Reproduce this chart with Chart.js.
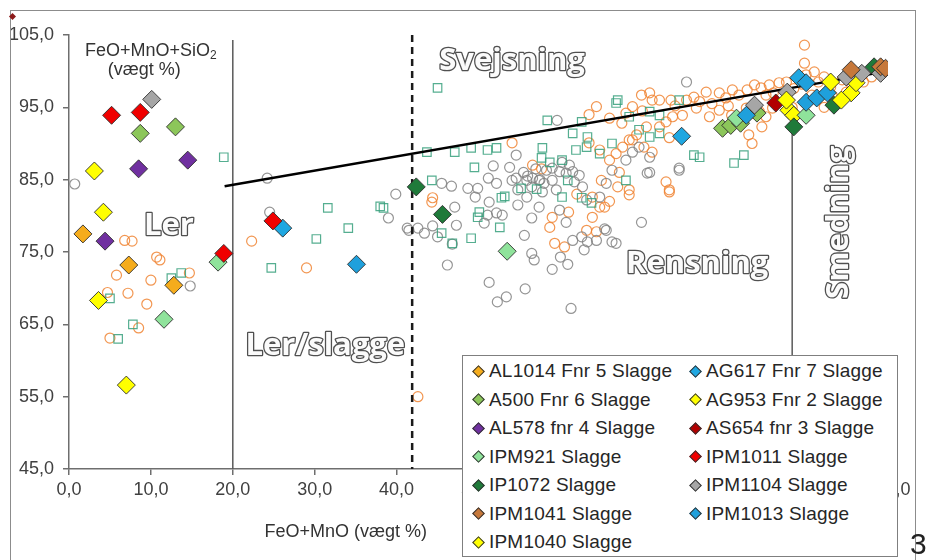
<!DOCTYPE html>
<html lang="da">
<head>
<meta charset="UTF-8">
<title>FeO+MnO mod FeO+MnO+SiO2</title>
<script src="https://cdn.jsdelivr.net/npm/chart.js"></script>
<style>
  body { margin: 0; background: #fff; font-family: "Liberation Sans", Arial, sans-serif; }
  #wrap { position: relative; width: 930px; height: 560px; overflow: hidden; background: #fff; }
  #frame { position: absolute; left: 10px; top: 10px; width: 904px; height: 600px; border: 1.5px solid #8c8c8c; pointer-events: none; }
  #legend {
    position: absolute; left: 462px; top: 355px; width: 436px; height: 202px;
    background: #fff; border: 1px solid #7f7f7f; box-sizing: border-box;
    display: grid; grid-template-columns: 217px 1fr; grid-auto-rows: 28.5px; padding-top: 1px;
    font-size: 19px; letter-spacing: 0.2px; color: #262626;
  }
  .item { display: flex; align-items: center; padding-left: 11px; white-space: nowrap; }
  .mk { width: 7px; height: 7px; transform: rotate(45deg); border: 1px solid #333; margin-right: 6px; flex: none; }
  #stray { position: absolute; left: 10px; top: 14px; width: 5px; height: 5px; background: #8b1a1a; transform: rotate(45deg); }
  #cut { position: absolute; left: 910px; top: 527px; font-size: 30px; color: #222; }
</style>
</head>
<body>
<div id="wrap">
  <canvas id="chart" width="930" height="560"></canvas>
  <div id="frame"></div>
  <div id="stray"></div>
  <div id="legend"></div>
  <div id="cut">3</div>
</div>
<script>
// axis ticks
const xTicks = [0, 10, 20, 30, 40, 50, 60, 70, 80, 90, 100];
const yTicks = [45, 55, 65, 75, 85, 95, 105];

// background clouds (no legend entry)
const orangeCircles = [
  [6.8,76.6],[7.7,76.5],[10.7,74.3],[11.1,73.9],[5.8,71.8],[14.7,72.1],[10.0,71.1],[7.2,69.3],[4.7,69.4],
  [9.5,67.8],[8.5,64.5],[5.0,63.1],[22.3,76.5],[29.0,72.8],[42.6,55.0],
  [54.1,90.1],[44.4,82.5],[44.3,81.9],[59.0,79.8],[58.7,78.4],[59.3,76.2],[60.5,75.7],[63.9,79.8],[63.2,78.0],
  [64.4,77.8],[64.8,81.2],[65.4,81.2],[67.0,84.0],[68.4,82.9],[65.0,84.9],[63.5,94.0],[64.4,95.1],[68.0,94.2],
  [68.8,95.1],[71.2,96.0],[72.9,84.7],[73.3,83.3],[68.8,90.5],[70.2,89.5],[71.2,88.8],[56.6,87.0],[57.7,86.5],
  [61.0,80.5],[62.0,83.0],[66.0,82.0],
  [69.9,96.7],[70.9,97.0],[72.1,96.0],[73.5,96.0],[75.4,96.0],[76.3,96.4],[77.8,97.1],[79.4,97.0],[80.2,96.3],
  [81.0,97.4],[81.8,96.7],[82.8,97.4],[83.7,98.1],[84.5,97.7],[85.5,98.1],[86.7,98.4],[87.6,98.5],[89.8,101.1],
  [91.0,99.9],[92.2,99.2],[90.0,99.5],[85.1,96.7],[82.7,94.9],[83.4,94.2],[84.3,94.4],[85.1,93.7],[85.9,94.9],
  [84.6,92.3],[83.0,91.2],[83.4,90.0],[80.9,93.9],[79.4,94.6],[78.2,93.7],[76.6,94.9],[74.9,93.9],[73.7,93.7],
  [72.9,93.0],[72.1,92.3],[70.5,92.3],[69.3,91.2],[68.4,90.5],[67.6,89.5],[66.8,88.6],[73.3,90.8],[73.3,83.6],
  [63.9,82.6],[68.4,83.6],[67.2,86.0],[66.0,87.7],[64.8,89.1],[63.5,90.1],[88.3,95.0],[90.7,96.7],[92.2,95.0],
  [93.2,96.6],[94.9,97.1],[95.6,97.8],[94.4,98.8],[97.0,98.5],[98.0,99.2],[89.8,103.6],
  [66.0,93.5],[67.5,92.8],[70.0,94.5],[74.0,95.2],[77.0,95.8],[78.5,95.5],[80.5,95.2],[86.0,97.0],[88.5,97.6],
  [89.5,98.2],[91.5,98.5],[93.0,97.8]
];
const greenSquares = [
  [12.5,71.4],[13.7,72.1],[5.0,68.6],[7.8,65.0],[6.0,63.0],[24.7,72.8],[30.2,76.8],[18.9,88.1],[31.6,81.1],
  [34.1,78.3],[38.0,81.3],[38.4,81.1],[45.0,97.7],
  [43.7,88.8],[47.1,88.8],[49.1,89.4],[51.1,89.1],[52.2,89.4],[58.4,93.2],[62.6,93.0],[61.5,91.4],[49.5,86.7],
  [44.3,84.9],[53.2,82.7],[52.8,82.5],[50.1,80.5],[49.9,79.8],[52.6,78.4],[45.5,77.6],[46.8,76.2],[49.1,76.9],
  [55.2,83.8],[57.1,83.7],[57.8,89.4],[57.7,88.0],[58.7,87.4],[60.2,87.7],[60.9,84.9],[60.2,82.6],[62.6,82.5],
  [63.8,81.8],[61.9,89.1],[63.2,89.5],[64.8,88.6],[66.3,90.0],[68.0,84.9],[70.9,90.9],[72.1,91.4],[66.8,95.6],
  [76.3,88.4],
  [67.0,96.0],[70.9,94.4],[72.1,93.9],[74.5,96.0],[77.0,88.1],[81.2,87.3],[82.4,88.4],[81.5,92.8],[68.4,93.7],
  [63.3,90.9],[69.6,91.9]
];
const greyCircles = [
  [0.7,84.4],[14.8,70.3],[24.5,80.5],[24.2,85.2],[39.9,83.0],[39.0,79.7],[41.5,78.0],
  [41.3,78.3],[42.6,78.3],[43.4,77.6],[44.4,78.6],[45.0,77.1],[45.5,84.5],[46.7,84.1],[47.1,81.2],[47.3,78.7],
  [46.8,76.1],[46.2,73.2],[48.7,83.8],[49.9,83.8],[49.6,82.6],[51.2,85.2],[52.2,84.5],[51.3,81.9],[51.1,80.1],
  [52.2,80.4],[50.7,79.0],[52.9,80.1],[51.8,86.9],[53.8,86.7],[54.6,88.4],[54.6,85.2],[54.8,81.5],[55.9,82.6],
  [56.5,79.7],[55.6,77.3],[57.4,81.2],[56.5,74.8],[56.8,73.9],[51.3,70.8],[52.3,68.1],[53.4,68.8],[55.7,69.9],
  [59.0,72.6],[60.0,74.3],[60.9,73.3],[61.3,67.2],[59.9,80.8],[60.7,79.1],[61.5,76.6],[62.6,77.1],[63.3,76.4],
  [62.9,75.3],[64.4,76.6],[65.4,78.2],[66.8,76.2],[69.9,79.1],[70.6,85.9],[74.5,86.3],[59.6,93.2],[58.3,86.3],
  [59.0,86.6],[59.9,86.1],[60.7,85.9],[61.5,86.1],[62.3,85.6],[61.1,87.0],[60.2,87.4],[61.7,84.7],[62.7,84.0],
  [63.2,82.2],[64.8,82.6],[65.6,84.5],[66.3,86.3],[68.0,87.7],[68.8,88.8],[69.6,89.5],[70.9,88.1],[54.1,84.9],
  [55.9,84.9],[54.8,83.6],[56.6,85.2],[57.4,84.9],[59.0,84.9],[59.5,83.6],[57.8,83.3],
  [55.5,86.0],[56.0,85.5],[57.0,86.5],[57.5,85.0],[58.0,84.5],[56.5,84.0],
  [75.4,98.5],[74.5,86.6],[70.9,86.0],[65.6,78.0],[66.3,76.4]
];

// slag series (diamonds), in legend order
const seriesNames = [
  'AL1014 Fnr 5 Slagge', 'AG617 Fnr 7 Slagge',
  'A500 Fnr 6 Slagge', 'AG953 Fnr 2 Slagge',
  'AL578 fnr 4 Slagge', 'AS654 fnr 3 Slagge',
  'IPM921 Slagge', 'IPM1011 Slagge',
  'IP1072 Slagge', 'IPM1104 Slagge',
  'IPM1041 Slagge', 'IPM1013 Slagge',
  'IPM1040 Slagge'
];
const al1014 = [[1.7,77.5],[7.3,73.2],[12.8,70.4]];
const ag617  = [[26.1,78.3],[74.8,91.0],[89.1,99.1]];
const a500   = [[8.7,91.4],[13.0,92.3],[79.8,92.1],[80.8,92.5],[84.0,94.2],[82.0,92.8]];
const ag953  = [[3.1,86.2],[4.2,80.5],[87.9,94.6],[88.5,93.9],[95.5,97.0],[96.1,98.4]];
const al578  = [[14.5,87.7],[8.5,86.5],[4.4,76.5]];
const as654  = [[86.3,95.6]];
const ipm921 = [[11.6,65.7],[18.2,73.6],[53.5,75.1],[81.5,93.5],[90.0,93.9]];
const ipm1011 = [[5.2,93.9],[8.7,94.3],[18.9,74.8],[24.9,79.3]];
const ip1072 = [[42.4,84.0],[45.6,80.2],[88.5,92.3],[93.4,95.3],[98.3,100.6]];
const ipm1104 = [[10.1,96.1],[83.7,95.3],[87.7,97.1],[94.9,99.2],[96.8,99.7],[99.1,99.7]];
const ipm1041 = [[95.5,100.2],[99.1,100.6],[99.7,100.4]];
const ipm1013 = [[35.1,73.3],[82.7,93.9],[90.0,98.4],[90.0,95.7],[91.3,96.3],[92.6,97.0]];
const ipm1040 = [[7.0,56.6],[3.6,68.3],[87.6,96.0],[93.0,98.5],[94.3,96.0]];
const seriesData = [al1014, ag617, a500, ag953, al578, as654, ipm921, ipm1011, ip1072, ipm1104, ipm1041, ipm1013, ipm1040];
const seriesColors = ['#f5ac1c', '#1fa7e1', '#8cc65a', '#ffff00', '#7030a0', '#b20000', '#8fe39b',
                      '#f00000', '#1f7a3a', '#a6a6a6', '#c6783a', '#1fa0dc', '#ffff00'];

// guide lines
const trendLine = [[19.0,84.1],[99.5,99.9]];
const lerLine = [[20.0,104.3],[20.0,45]];
const slaggeLine = [[41.9,105],[41.9,45]];
const smedLine = [[88.3,91.5],[88.3,45]];

const pts = arr => arr.map(([x, y]) => ({ x, y }));
const fmt = v => v.toFixed(1).replace('.', ',');

const datasets = [];
datasets.push({ data: pts(orangeCircles), pointStyle: 'circle', pointRadius: 5, borderWidth: 1.2,
  borderColor: 'rgba(240,132,50,0.85)', backgroundColor: 'rgba(0,0,0,0)', order: 60 });
datasets.push({ data: pts(greenSquares), pointStyle: 'rect', pointRadius: 6, borderWidth: 1.2,
  borderColor: 'rgba(55,160,125,0.85)', backgroundColor: 'rgba(0,0,0,0)', order: 58 });
datasets.push({ data: pts(greyCircles), pointStyle: 'circle', pointRadius: 5, borderWidth: 1.2,
  borderColor: 'rgba(130,130,130,0.85)', backgroundColor: 'rgba(0,0,0,0)', order: 59 });
datasets.push({ data: pts(lerLine), showLine: true, pointRadius: 0, borderColor: '#5a5a5a', borderWidth: 1.5, order: 40 });
datasets.push({ data: pts(slaggeLine), showLine: true, pointRadius: 0, borderColor: '#1a1a1a', borderWidth: 2.5,
  borderDash: [7, 5], order: 40 });
datasets.push({ data: pts(smedLine), showLine: true, pointRadius: 0, borderColor: '#5a5a5a', borderWidth: 1.5, order: 40 });
datasets.push({ data: pts(trendLine), showLine: true, pointRadius: 0, borderColor: '#000', borderWidth: 2.5, order: 30 });
seriesData.forEach((s, i) => {
  datasets.push({ label: seriesNames[i], data: pts(s), pointStyle: 'rectRot', pointRadius: 9, borderWidth: 1,
    borderColor: 'rgba(45,45,45,0.9)', backgroundColor: seriesColors[i], order: 20 - i });
});

// zone labels (outlined text), anchored in data units
const zoneTexts = [
  { text: 'Svejsning', x: 54.1, y: 100.2, rot: 0 },
  { text: 'Ler', x: 12.2, y: 77.3, rot: 0 },
  { text: 'Ler/slagge', x: 31.3, y: 60.8, rot: 0 },
  { text: 'Rensning', x: 76.7, y: 72.1, rot: 0 },
  { text: 'Smedning', x: 94.0, y: 79.1, rot: -Math.PI / 2 }
];

const annotate = {
  id: 'annotate',
  afterDraw(chart) {
    const { ctx, chartArea } = chart;
    const xs = chart.scales.x, ys = chart.scales.y;
    ctx.save();
    ctx.font = 'bold 31px "Open Sans"';
    ctx.lineJoin = 'round';
    ctx.textAlign = 'center';
    zoneTexts.forEach(z => {
      ctx.save();
      ctx.translate(xs.getPixelForValue(z.x), ys.getPixelForValue(z.y));
      ctx.rotate(z.rot);
      ctx.textBaseline = z.rot ? 'middle' : 'alphabetic';
      ctx.lineWidth = 2.6;
      ctx.strokeStyle = '#505050';
      ctx.strokeText(z.text, 0, 0);
      ctx.fillStyle = '#fbfbfb';
      ctx.fillText(z.text, 0, 0);
      ctx.restore();
    });

    // y title inside the plot
    ctx.fillStyle = '#333';
    ctx.textBaseline = 'middle';
    ctx.textAlign = 'left';
    ctx.font = '18px "Liberation Sans", Arial, sans-serif';
    const main = 'FeO+MnO+SiO';
    const w1 = ctx.measureText(main).width;
    ctx.font = '12px "Liberation Sans", Arial, sans-serif';
    const w2 = ctx.measureText('2').width;
    const cx = xs.getPixelForValue(10.0), cy = ys.getPixelForValue(102.8);
    const sx = cx - (w1 + w2) / 2;
    ctx.font = '18px "Liberation Sans", Arial, sans-serif';
    ctx.fillText(main, sx, cy);
    ctx.font = '12px "Liberation Sans", Arial, sans-serif';
    ctx.fillText('2', sx + w1, cy + 5);
    ctx.font = '18px "Liberation Sans", Arial, sans-serif';
    ctx.textAlign = 'center';
    ctx.fillText('(vægt %)', xs.getPixelForValue(9.2), ys.getPixelForValue(100.1));

    // x title
    ctx.fillText('FeO+MnO (vægt %)', xs.getPixelForValue(33.8), chartArea.bottom + 63);
    ctx.restore();
  }
};

const axisColor = '#6e6e6e';
const tickFont = { family: '"Liberation Sans", Arial, sans-serif', size: 18 };

new Chart(document.getElementById('chart'), {
  type: 'scatter',
  data: { datasets },
  options: {
    responsive: false,
    animation: false,
    devicePixelRatio: 1,
    layout: { padding: { left: 0, top: 35, right: 42, bottom: 0 } },
    plugins: { legend: { display: false }, tooltip: { enabled: false } },
    scales: {
      x: {
        min: 0, max: 100,
        afterBuildTicks: s => { s.ticks = xTicks.map(v => ({ value: v })); },
        afterFit: s => { s.height = 91; },
        ticks: { callback: v => fmt(v), font: tickFont, color: '#404040', padding: 4, maxRotation: 0 },
        grid: { drawOnChartArea: false, tickLength: 6, color: axisColor, lineWidth: 1.5 },
        border: { color: axisColor, width: 1.5 }
      },
      y: {
        min: 45, max: 105,
        afterBuildTicks: s => { s.ticks = yTicks.map(v => ({ value: v })); },
        afterFit: s => { s.width = 69; },
        ticks: { callback: v => fmt(v), font: tickFont, color: '#404040', padding: 9 },
        grid: { drawOnChartArea: false, tickLength: 6, color: axisColor, lineWidth: 1.5 },
        border: { color: axisColor, width: 1.5 }
      }
    }
  },
  plugins: [annotate]
});

// legend (two columns, filled row by row)
const legend = document.getElementById('legend');
seriesNames.forEach((name, i) => {
  const item = document.createElement('div');
  item.className = 'item';
  const mk = document.createElement('span');
  mk.className = 'mk';
  mk.style.background = seriesColors[i];
  item.appendChild(mk);
  item.appendChild(document.createTextNode(name));
  legend.appendChild(item);
});
</script>
</body>
</html>
